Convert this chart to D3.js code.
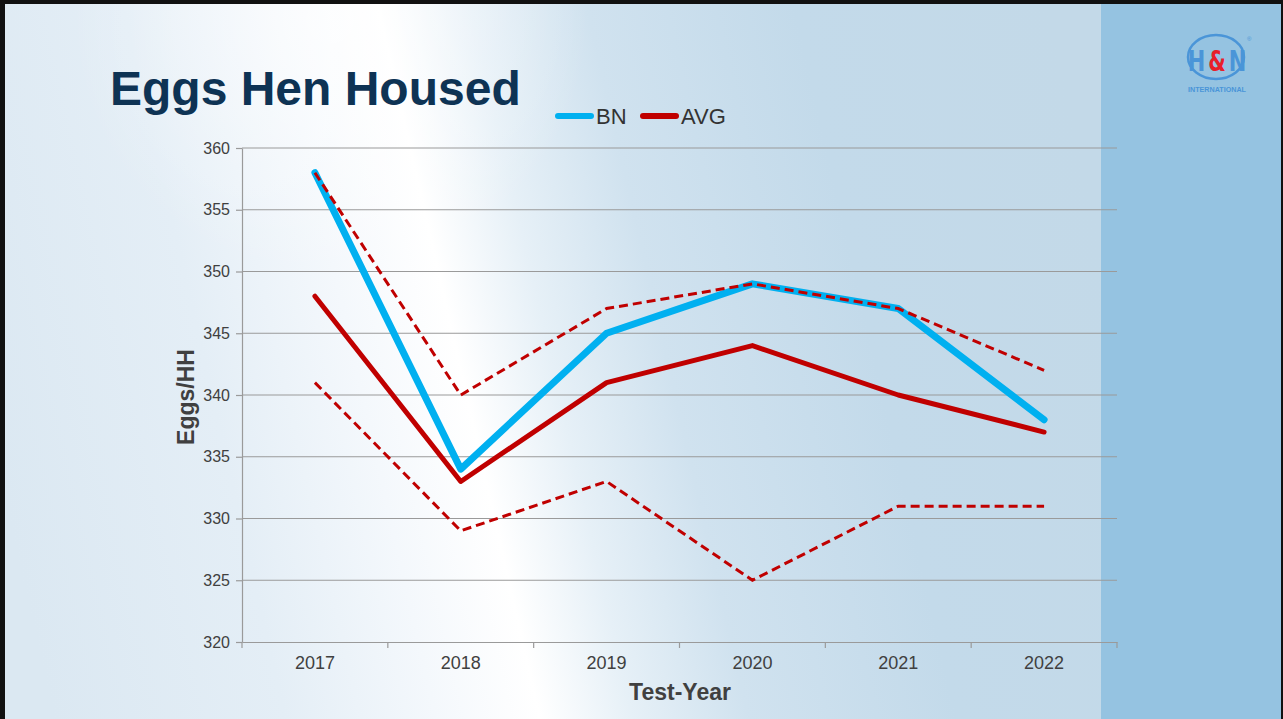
<!DOCTYPE html>
<html>
<head>
<meta charset="utf-8">
<script src="https://cdn.jsdelivr.net/npm/d3@7"></script>
<style>
html,body{margin:0;padding:0;background:#000;}
svg{display:block;}
</style>
</head>
<body>
<svg id="chart" width="1283" height="719"></svg>
<script>
const years = ["2017","2018","2019","2020","2021","2022"];
const bnValues = [358, 334, 345, 349, 347, 338];
const avgValues = [348, 333, 341, 344, 340, 337];
const maxValues = [358, 340, 347, 349, 347, 342];
const minValues = [341, 329, 333, 325, 331, 331];
const yTicks = [320, 325, 330, 335, 340, 345, 350, 355, 360];
const legendItems = ["BN", "AVG"];

const svg = d3.select("#chart");
const W = 1283, H = 719;
const defs = svg.append("defs");
const FONT = "'Liberation Sans', Arial, sans-serif";

// background
const bg = defs.append("linearGradient").attr("id","bgGrad")
  .attr("gradientUnits","userSpaceOnUse")
  .attr("x1",0).attr("y1",480).attr("x2",1100).attr("y2",230);
[[0,"#dbe8f2"],[0.2,"#e4eef6"],[0.33,"#f4f8fc"],[0.42,"#ffffff"],[0.5,"#e6f0f7"],[0.6,"#d0e2ef"],[0.78,"#c3daea"],[1,"#c3d9e8"]]
  .forEach(([o,c])=>bg.append("stop").attr("offset",o).attr("stop-color",c));
const topGlow = defs.append("radialGradient").attr("id","topGlow")
  .attr("gradientUnits","userSpaceOnUse").attr("cx",330).attr("cy",20).attr("r",260);
topGlow.append("stop").attr("offset",0).attr("stop-color","#ffffff").attr("stop-opacity",0.55);
topGlow.append("stop").attr("offset",1).attr("stop-color","#ffffff").attr("stop-opacity",0);

svg.append("rect").attr("x",0).attr("y",0).attr("width",W).attr("height",H).attr("fill","#111");
svg.append("rect").attr("x",5).attr("y",4).attr("width",W-7).attr("height",H-4).attr("fill","url(#bgGrad)");
svg.append("rect").attr("x",5).attr("y",4).attr("width",1096).attr("height",H-4).attr("fill","url(#topGlow)");
svg.append("rect").attr("x",1101).attr("y",4).attr("width",180).attr("height",H-4).attr("fill","#95c3e1");

// scales
const x = d3.scaleBand().domain(years).range([242,1117]);
const y = d3.scaleLinear().domain([320,360]).range([642,148]);
const cx = d => x(d) + x.bandwidth()/2;

// gridlines
svg.append("g").selectAll("line").data(yTicks.slice(1)).join("line")
  .attr("x1",242).attr("x2",1117)
  .attr("y1",d=>y(d)).attr("y2",d=>y(d))
  .attr("stroke","#9a9a9a").attr("stroke-width",1.2);

// y axis
const yAxis = svg.append("g").attr("transform","translate(242,0)")
  .call(d3.axisLeft(y).tickValues(yTicks).tickSize(6).tickSizeOuter(0).tickPadding(6));
yAxis.select(".domain").attr("stroke","#9a9a9a").attr("stroke-width",1.2);
yAxis.selectAll(".tick line").attr("stroke","#9a9a9a").attr("stroke-width",1.2);
yAxis.selectAll(".tick text").attr("fill","#404040")
  .style("font-family",FONT).style("font-size","16px");

// x axis
const xAxis = svg.append("g").attr("transform","translate(0,642)")
  .call(d3.axisBottom(x).tickSize(0).tickPadding(14));
xAxis.select(".domain").attr("stroke","#9a9a9a").attr("stroke-width",1.2);
xAxis.selectAll(".tick text").attr("fill","#404040")
  .style("font-family",FONT).style("font-size","18px");
const bounds = years.map(d=>x(d)).concat([x.range()[1]]);
xAxis.selectAll("line.bnd").data(bounds).join("line").attr("class","bnd")
  .attr("x1",d=>d).attr("x2",d=>d).attr("y1",0).attr("y2",6)
  .attr("stroke","#9a9a9a").attr("stroke-width",1.2);

// lines
const line = d3.line().x((d,i)=>cx(years[i])).y(d=>y(d));
svg.append("path").datum(bnValues).attr("d",line).attr("fill","none")
  .attr("stroke","#00b0f0").attr("stroke-width",7).attr("stroke-linecap","round").attr("stroke-linejoin","round");
svg.append("path").datum(avgValues).attr("d",line).attr("fill","none")
  .attr("stroke","#c00000").attr("stroke-width",5).attr("stroke-linecap","round").attr("stroke-linejoin","round");
[maxValues,minValues].forEach(v=>{
  svg.append("path").datum(v).attr("d",line).attr("fill","none")
    .attr("stroke","#c00000").attr("stroke-width",3).attr("stroke-dasharray","9,5");
});

// title
svg.append("text").attr("x",110).attr("y",105).text("Eggs Hen Housed")
  .attr("fill","#0e3354").style("font-family",FONT)
  .style("font-weight","bold").style("font-size","48px");

// legend
const legColors = ["#00b0f0","#c00000"];
const legX = [558, 643];
legendItems.forEach((t,i)=>{
  svg.append("line").attr("x1",legX[i]).attr("x2",legX[i]+33).attr("y1",116).attr("y2",116)
    .attr("stroke",legColors[i]).attr("stroke-width",6).attr("stroke-linecap","round");
  svg.append("text").attr("x",legX[i]+38).attr("y",124).text(t).attr("fill","#333")
    .style("font-family",FONT).style("font-size","22px");
});

// axis titles
svg.append("text").attr("transform","translate(194,397) rotate(-90)").attr("text-anchor","middle")
  .text("Eggs/HH").attr("fill","#404040")
  .style("font-family",FONT).style("font-weight","bold").style("font-size","23px");
svg.append("text").attr("x",680).attr("y",700).attr("text-anchor","middle")
  .text("Test-Year").attr("fill","#404040")
  .style("font-family",FONT).style("font-weight","bold").style("font-size","23px");

// logo
const logo = svg.append("g");
logo.append("ellipse").attr("cx",1216).attr("cy",57).attr("rx",28).attr("ry",22)
  .attr("fill","none").attr("stroke","#4a95d8").attr("stroke-width",2.5);
[["H",1196.5,"#4a95d8"],["&",1217,"#e8202a"],["N",1237.5,"#4a95d8"]].forEach(([t,px,c])=>{
  logo.append("text").attr("x",px).attr("y",71).attr("text-anchor","middle").text(t).attr("fill",c)
    .style("font-family","'DejaVu Sans Condensed','DejaVu Sans',sans-serif").style("font-weight","bold")
    .style("font-size","29px").attr("textLength",17.5).attr("lengthAdjust","spacingAndGlyphs");
});
logo.append("text").attr("x",1247).attr("y",41).text("®").attr("fill","#4a95d8")
  .style("font-family",FONT).style("font-size","6px");
logo.append("text").attr("x",1217).attr("y",92).attr("text-anchor","middle").text("INTERNATIONAL")
  .attr("fill","#4a95d8").attr("textLength",58).attr("lengthAdjust","spacingAndGlyphs")
  .style("font-family",FONT).style("font-weight","bold").style("font-size","7px");
</script>
</body>
</html>
